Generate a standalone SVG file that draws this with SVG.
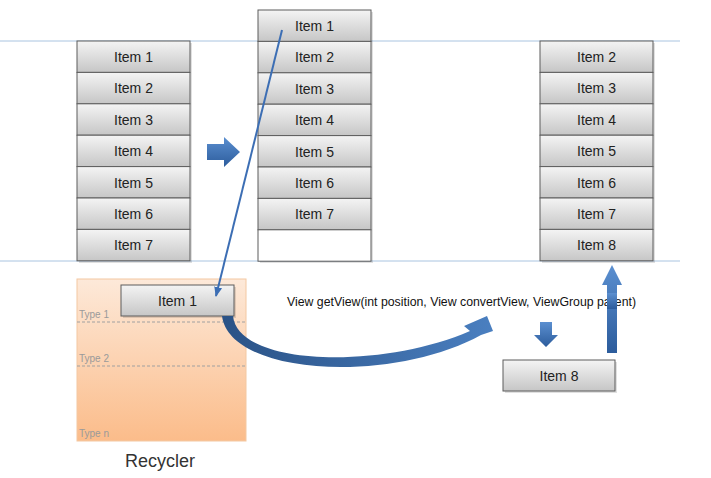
<svg xmlns="http://www.w3.org/2000/svg" width="711" height="478" viewBox="0 0 711 478">
<defs>
<linearGradient id="gItem" x1="0" y1="0" x2="0" y2="1">
<stop offset="0" stop-color="#f4f4f4"/>
<stop offset="1" stop-color="#c6c6c6"/>
</linearGradient>
<linearGradient id="gRec" x1="0" y1="0" x2="0" y2="1">
<stop offset="0" stop-color="#fde9d9"/>
<stop offset="1" stop-color="#fbbc8a"/>
</linearGradient>
<linearGradient id="gBlue" x1="0" y1="0" x2="0" y2="1">
<stop offset="0" stop-color="#5b8fd0"/>
<stop offset="1" stop-color="#2c5c9c"/>
</linearGradient>
<linearGradient id="gCurve" x1="0" y1="0" x2="1" y2="0">
<stop offset="0" stop-color="#2a5286"/>
<stop offset="1" stop-color="#4a7fc0"/>
</linearGradient>
<marker id="ah" viewBox="0 0 10 10" refX="9" refY="5" markerWidth="5" markerHeight="5" orient="auto">
<path d="M0,1 L10,5 L0,9 Z" fill="#3c6eb4"/>
</marker>
</defs>
<style>
.item{fill:url(#gItem);stroke:#5c5c5c;stroke-width:1}
.blank{fill:#ffffff;stroke:#5c5c5c;stroke-width:1}
.sh{fill:#000;opacity:0.12}
.t{font-family:"Liberation Sans",Arial,sans-serif;font-size:14px;fill:#222;text-anchor:middle}
.type{font-family:"Liberation Sans",Arial,sans-serif;font-size:10px;fill:#9a9a9a}
.hl{stroke:#a9c4e0;stroke-width:1}
.dash{stroke:#a0a0a0;stroke-width:1;stroke-dasharray:3,2}
</style>
<rect width="711" height="478" fill="#ffffff"/>

<g id="guides">
<line class="hl" x1="0" y1="41" x2="680" y2="41"/>
<line class="hl" x1="0" y1="261" x2="680" y2="261"/>
</g>

<g id="recycler">
<rect x="77" y="279" width="169" height="162" fill="url(#gRec)" stroke="#f3c8a2" stroke-width="1"/>
<line class="dash" x1="77" y1="322" x2="246" y2="322"/>
<line class="dash" x1="77" y1="366" x2="246" y2="366"/>
<text class="type" x="79" y="318">Type 1</text>
<text class="type" x="79" y="362">Type 2</text>
<text class="type" x="79" y="437">Type n</text>
<text x="160" y="467" font-family="Liberation Sans,Arial,sans-serif" font-size="18" fill="#333" text-anchor="middle">Recycler</text>
</g>

<g id="col-left">
<rect class="sh" x="79" y="43" width="113" height="220"/>
<rect class="item" x="77" y="41" width="113" height="31.4"/><text class="t" x="133.5" y="62">Item 1</text>
<rect class="item" x="77" y="72.4" width="113" height="31.4"/><text class="t" x="133.5" y="93.4">Item 2</text>
<rect class="item" x="77" y="103.8" width="113" height="31.4"/><text class="t" x="133.5" y="124.8">Item 3</text>
<rect class="item" x="77" y="135.2" width="113" height="31.4"/><text class="t" x="133.5" y="156.2">Item 4</text>
<rect class="item" x="77" y="166.6" width="113" height="31.4"/><text class="t" x="133.5" y="187.6">Item 5</text>
<rect class="item" x="77" y="198" width="113" height="31.4"/><text class="t" x="133.5" y="219">Item 6</text>
<rect class="item" x="77" y="229.4" width="113" height="31.4"/><text class="t" x="133.5" y="250.4">Item 7</text>
</g>

<g id="col-mid">
<rect class="sh" x="260" y="12" width="113" height="251"/>
<rect class="item" x="258" y="10" width="113" height="31.4"/><text class="t" x="314.5" y="31">Item 1</text>
<rect class="item" x="258" y="41.4" width="113" height="31.4"/><text class="t" x="314.5" y="62.4">Item 2</text>
<rect class="item" x="258" y="72.8" width="113" height="31.4"/><text class="t" x="314.5" y="93.8">Item 3</text>
<rect class="item" x="258" y="104.2" width="113" height="31.4"/><text class="t" x="314.5" y="125.2">Item 4</text>
<rect class="item" x="258" y="135.6" width="113" height="31.4"/><text class="t" x="314.5" y="156.6">Item 5</text>
<rect class="item" x="258" y="167" width="113" height="31.4"/><text class="t" x="314.5" y="188">Item 6</text>
<rect class="item" x="258" y="198.4" width="113" height="31.4"/><text class="t" x="314.5" y="219.4">Item 7</text>
<rect class="blank" x="258" y="229.8" width="113" height="31.4"/>
</g>

<g id="col-right">
<rect class="sh" x="542" y="43" width="113" height="220"/>
<rect class="item" x="540" y="41" width="113" height="31.4"/><text class="t" x="596.5" y="62">Item 2</text>
<rect class="item" x="540" y="72.4" width="113" height="31.4"/><text class="t" x="596.5" y="93.4">Item 3</text>
<rect class="item" x="540" y="103.8" width="113" height="31.4"/><text class="t" x="596.5" y="124.8">Item 4</text>
<rect class="item" x="540" y="135.2" width="113" height="31.4"/><text class="t" x="596.5" y="156.2">Item 5</text>
<rect class="item" x="540" y="166.6" width="113" height="31.4"/><text class="t" x="596.5" y="187.6">Item 6</text>
<rect class="item" x="540" y="198" width="113" height="31.4"/><text class="t" x="596.5" y="219">Item 7</text>
<rect class="item" x="540" y="229.4" width="113" height="31.4"/><text class="t" x="596.5" y="250.4">Item 8</text>
</g>

<g id="recycled-item1">
<rect class="sh" x="123" y="287" width="113" height="31"/>
<rect class="item" x="121" y="285" width="113" height="31"/><text class="t" x="177.5" y="306">Item 1</text>
</g>

<g id="item8">
<rect class="sh" x="505" y="362" width="112" height="31"/>
<rect class="item" x="503" y="360" width="112" height="31"/><text class="t" x="559" y="381">Item 8</text>
</g>

<g id="connectors">
<line x1="282" y1="30" x2="216" y2="296" stroke="#3c6eb4" stroke-width="2" marker-end="url(#ah)"/>
<path d="M207,144 L224,144 L224,137 L240,152 L224,167 L224,160 L207,160 Z" fill="url(#gBlue)"/>
<path d="M540,322 L552,322 L552,335 L558,335 L546,347 L534,335 L540,335 Z" fill="url(#gBlue)"/>
<path d="M607,353 L617,353 L617,285 L622,285 L612,265 L602,285 L607,285 Z" fill="url(#gBlue)"/>
<path d="M233,316 C238,366 380,370 470,331 L464,326 L487,316 L493,331 L481,335 C392,384 230,376 222,316 Z" fill="url(#gCurve)"/>
</g>

<g id="label">
<text x="287" y="306" font-family="Liberation Sans,Arial,sans-serif" font-size="12" fill="#111" textLength="349" lengthAdjust="spacingAndGlyphs">View getView(int position, View convertView, ViewGroup parent)</text>
</g>
<rect x="607" y="293" width="10" height="16" fill="url(#gBlue)"/>
</svg>
